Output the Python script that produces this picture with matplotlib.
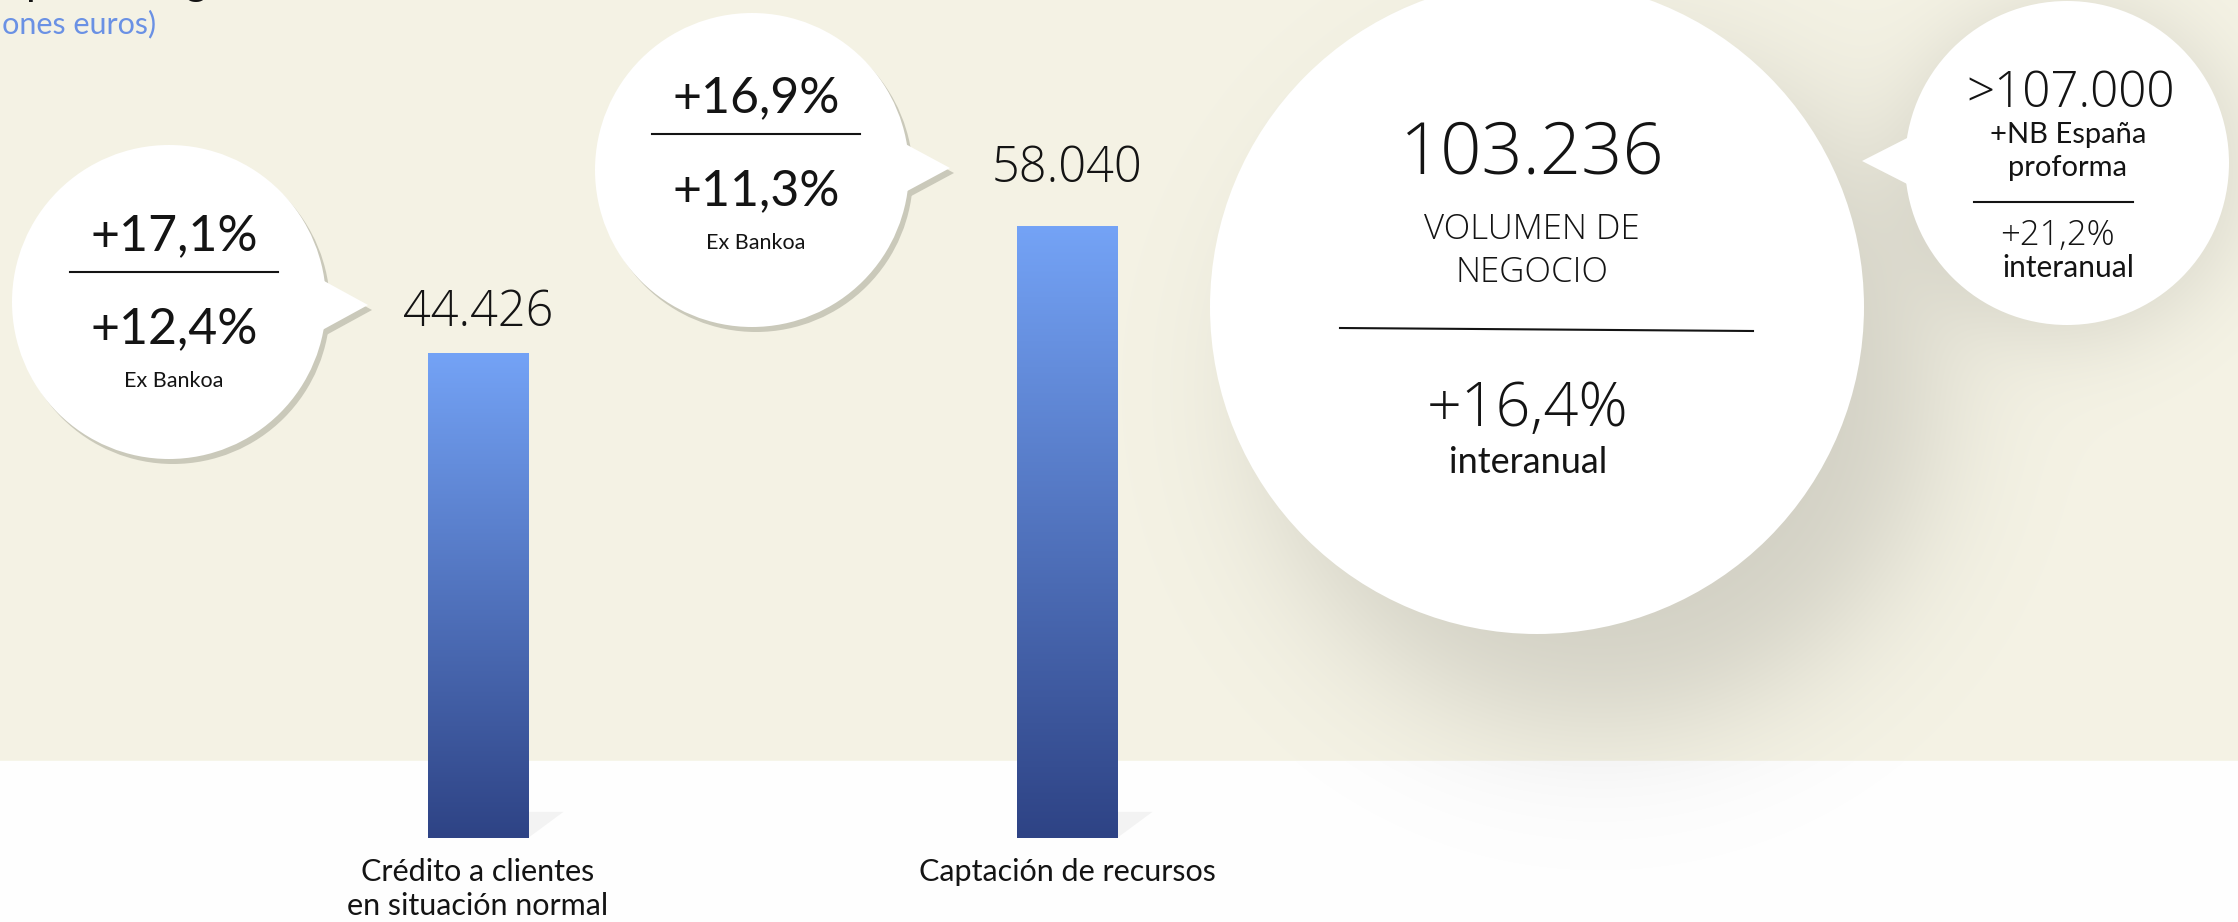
import matplotlib
matplotlib.use("Agg")
import matplotlib.pyplot as plt
from matplotlib.colors import to_rgb
from matplotlib.patches import Circle, Polygon
import numpy as np

plt.rcParams["font.family"] = ["Lato", "DejaVu Sans"]
THIN = dict(family=["Open Sans", "DejaVu Sans"], fontweight=300)

W, H = 2238, 922

# datos
categories = ["Crédito a clientes\nen situación normal", "Captación de recursos"]
volumes = [44426, 58040]
growth = [17.1, 16.9]
growth_ex_bankoa = [12.4, 11.3]
business_volume = 103236
business_growth = 16.4
proforma_volume = 107000
proforma_growth = 21.2


def es_int(v):
    return f"{v:,}".replace(",", ".")


def es_pct(v):
    return f"+{v:.1f}%".replace(".", ",")


CREAM = "#f5f3e5"
INK = "#141414"
BLUE_TXT = "#6a91e4"

fig = plt.figure(figsize=(W / 100, H / 100), dpi=100)

# fondo crema / blanco con sombras difusas
yy, xx = np.mgrid[0:H, 0:W] + 0.5
img = np.ones((H, W, 3))
img[yy < 761] = to_rgb(CREAM)


def soft_disk(cx, cy, r, k):
    d = np.hypot(xx - cx, yy - cy) - r
    return 1 / (1 + np.exp(np.clip(d / k, -50, 50)))


shade = 0.145 * soft_disk(1600, 390, 330, 42) + 0.1 * soft_disk(2070, 172, 170, 24)
img *= (1 - shade)[..., None]

bg = fig.add_axes([0, 0, 1, 1], zorder=0)
bg.imshow(img, extent=(0, W, H, 0), aspect="auto", interpolation="bilinear")
bg.set_xlim(0, W)
bg.set_ylim(H, 0)
bg.axis("off")

# barras (la infografía no arranca en cero)
base = -7600
ax = fig.add_axes([0, (H - 838) / H, 1, (838 - 226) / H], zorder=1)
x = np.arange(len(volumes))
bw = 0.17
bars = ax.bar(x, np.array(volumes) - base, bottom=base, width=bw,
              color="none", edgecolor="none")

t = np.linspace(0, 1, 256)[:, None, None]
grad = np.array(to_rgb("#74a3f6")) * (1 - t) + np.array(to_rgb("#2e4385")) * t
for b in bars:
    x0, y0 = b.get_x(), b.get_y()
    im = ax.imshow(grad, extent=(x0, x0 + b.get_width(), y0, y0 + b.get_height()),
                   aspect="auto", origin="upper", zorder=2)
    im.set_clip_path(b)
    r = x0 + b.get_width()
    ax.add_patch(Polygon([(r, y0), (r + 0.06, y0 + 2800), (r, y0 + 2800)],
                         color="#e6e6e6", alpha=0.45, lw=0, zorder=1))

gaps_px = [27, 44]
for xi, v, g in zip(x, volumes, gaps_px):
    ax.annotate(es_int(v), xy=(xi, v), xytext=(0, g * 0.72), textcoords="offset points",
                ha="center", va="baseline", fontsize=35, color=INK, **THIN)

for xi, c in zip(x, categories):
    ax.annotate(c, xy=(xi, base), xytext=(0, -20 * 0.72), textcoords="offset points",
                ha="center", va="top", fontsize=22, linespacing=1.28, color=INK)

ax.set_ylim(base, max(volumes))
ax.set_xlim(-478 / 589, (W - 478) / 589)
ax.axis("off")

# burbujas (coordenadas en píxeles)
ov = fig.add_axes([0, 0, 1, 1], zorder=2)
ov.set_xlim(0, W)
ov.set_ylim(H, 0)
ov.axis("off")


def bubble(cx, cy, r, tail=None, shadow=True):
    if shadow:
        ov.add_patch(Circle((cx + 4, cy + 5), r, color="#cac9ba", lw=0))
        ov.add_patch(Polygon([(px + 4, py + 5) for px, py in tail], color="#cac9ba", lw=0))
    ov.add_patch(Circle((cx, cy), r, color="white", lw=0))
    if tail:
        ov.add_patch(Polygon(tail, color="white", lw=0))


def txt(xp, yp, s, size, thin=False, color=INK):
    kw = THIN if thin else {}
    ov.text(xp, yp, s, ha="center", va="baseline", fontsize=size, color=color, **kw)


bubble(169, 302, 157, [(315, 276), (368, 305), (315, 334)])
bubble(752, 170, 157, [(898, 140), (950, 168), (898, 196)])
bubble(1537, 307, 327, shadow=False)
bubble(2067, 163, 162, [(1915, 134), (1862, 161), (1915, 188)], shadow=False)

# burbujas de crédito y recursos
for cx, top_y, g, gx in zip([174, 756], [250, 112], growth, growth_ex_bankoa):
    txt(cx, top_y, es_pct(g), 36)
    ov.plot([cx - 104, cx + 104], [top_y + 22, top_y + 22], color=INK, lw=1.5)
    txt(cx, top_y + 93, es_pct(gx), 36)
    txt(cx, top_y + 137, "Ex Bankoa", 15.5)

# volumen de negocio
txt(1532, 174, es_int(business_volume), 52, thin=True)
txt(1532, 239, "VOLUMEN DE", 25, thin=True)
txt(1532, 282, "NEGOCIO", 25, thin=True)
ov.plot([1340, 1753], [328, 331], color=INK, lw=1.5)
txt(1528, 426, es_pct(business_growth), 44, thin=True)
txt(1528, 473, "interanual", 26)

# proforma
txt(2071, 107, ">" + es_int(proforma_volume), 35.5, thin=True)
txt(2068, 143, "+NB España", 21)
txt(2068, 176, "proforma", 21)
ov.plot([1974, 2133], [202, 202], color=INK, lw=1.5)
txt(2057, 245, es_pct(proforma_growth), 25, thin=True)
txt(2068, 277, "interanual", 21.5)

# título (cortado en el borde del recorte, como en el original)
ov.text(-77, -5, "Principales magnitudes", ha="left", va="baseline", fontsize=30, color=INK)
ov.text(-53, 33, "(millones euros)", ha="left", va="baseline", fontsize=22, color=BLUE_TXT)

fig.savefig("out.png", dpi=100)
